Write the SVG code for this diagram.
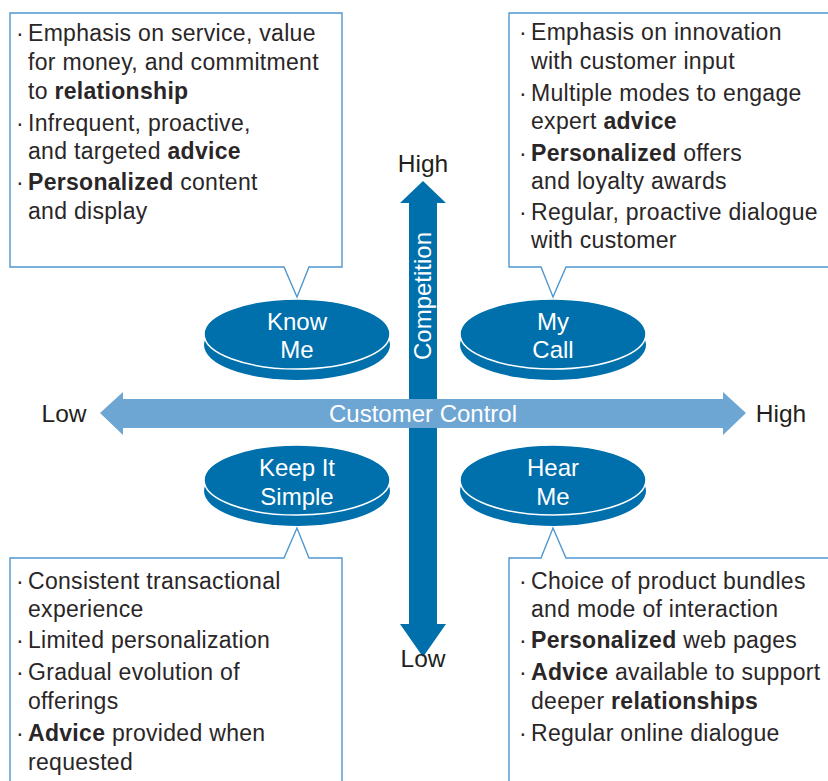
<svg xmlns="http://www.w3.org/2000/svg" width="828" height="781" viewBox="0 0 828 781">
<style>
.t{font-family:"Liberation Sans",Arial,sans-serif;font-size:23px;fill:#2a2627;letter-spacing:0.3px}
.b{font-weight:bold}
.box{fill:#fff;stroke:#4f97cf;stroke-width:1.4}
.disc{fill:#0070ad}
.top{fill:#0070ad;stroke:#fff;stroke-width:1.5}
.lbl{font-family:"Liberation Sans",Arial,sans-serif;font-size:24px;fill:#fff;text-anchor:middle}
.ax{font-family:"Liberation Sans",Arial,sans-serif;font-size:24.5px;fill:#231f20;text-anchor:middle}
</style>
<rect width="828" height="781" fill="#fff"/>
<g id="connectors">
<polygon id="v-axis" fill="#0070ad" points="423,181 446,203 437,203 437,624 446,624 423,657 400,624 409,624 409,203 400,203"/>
<polygon id="h-axis" fill="#6ea6d3" points="100,413 123,392 123,399 723,399 723,392 746,413 723,435 723,428 123,428 123,435"/>
<text class="lbl" x="423" y="422" font-size="23.5">Customer Control</text>
<text class="lbl" transform="translate(431,296) rotate(-90)" x="0" y="0" font-size="24">Competition</text>
</g>
<g id="axis-labels">
<text class="ax" x="423" y="172">High</text>
<text class="ax" x="423" y="667">Low</text>
<text class="ax" x="64" y="422">Low</text>
<text class="ax" x="781" y="422">High</text>
</g>
<g id="know-me">
<ellipse class="disc" cx="297" cy="345" rx="93" ry="35"/>
<ellipse class="top" cx="297" cy="334" rx="93" ry="35"/>
<text class="lbl" x="297" y="330">Know</text>
<text class="lbl" x="297" y="358">Me</text>
</g>
<g id="my-call">
<ellipse class="disc" cx="553" cy="345" rx="93" ry="35"/>
<ellipse class="top" cx="553" cy="334" rx="93" ry="35"/>
<text class="lbl" x="553" y="330">My</text>
<text class="lbl" x="553" y="358">Call</text>
</g>
<g id="keep-it-simple">
<ellipse class="disc" cx="297" cy="491" rx="93" ry="35"/>
<ellipse class="top" cx="297" cy="480" rx="93" ry="35"/>
<text class="lbl" x="297" y="476">Keep It</text>
<text class="lbl" x="297" y="505">Simple</text>
</g>
<g id="hear-me">
<ellipse class="disc" cx="553" cy="491" rx="93" ry="35"/>
<ellipse class="top" cx="553" cy="480" rx="93" ry="35"/>
<text class="lbl" x="553" y="476">Hear</text>
<text class="lbl" x="553" y="505">Me</text>
</g>
<g id="box-know-me">
<path class="box" d="M10,13 H342 V267 H309 L297,297 L284,267 H10 Z"/>
<text class="t" x="16" y="41">·</text><text class="t" x="28" y="41">Emphasis on service, value</text>
<text class="t" x="28" y="70">for money, and commitment</text>
<text class="t" x="28" y="99">to <tspan class="b">relationship</tspan></text>
<text class="t" x="16" y="131">·</text><text class="t" x="28" y="131">Infrequent, proactive,</text>
<text class="t" x="28" y="159">and targeted <tspan class="b">advice</tspan></text>
<text class="t" x="16" y="190">·</text><text class="t" x="28" y="190"><tspan class="b">Personalized</tspan> content</text>
<text class="t" x="28" y="219">and display</text>
</g>
<g id="box-my-call">
<path class="box" d="M840,13 H509 V267 H541 L553,297 L566,267 H840"/>
<text class="t" x="519" y="40">·</text><text class="t" x="531" y="40">Emphasis on innovation</text>
<text class="t" x="531" y="69">with customer input</text>
<text class="t" x="519" y="101">·</text><text class="t" x="531" y="101">Multiple modes to engage</text>
<text class="t" x="531" y="129">expert <tspan class="b">advice</tspan></text>
<text class="t" x="519" y="161">·</text><text class="t" x="531" y="161"><tspan class="b">Personalized</tspan> offers</text>
<text class="t" x="531" y="189">and loyalty awards</text>
<text class="t" x="519" y="220">·</text><text class="t" x="531" y="220">Regular, proactive dialogue</text>
<text class="t" x="531" y="248">with customer</text>
</g>
<g id="box-keep-it-simple">
<path class="box" d="M10,790 V558 H284 L297,528 L309,558 H342 V790"/>
<text class="t" x="16" y="589">·</text><text class="t" x="28" y="589">Consistent transactional</text>
<text class="t" x="28" y="617">experience</text>
<text class="t" x="16" y="648">·</text><text class="t" x="28" y="648">Limited personalization</text>
<text class="t" x="16" y="680">·</text><text class="t" x="28" y="680">Gradual evolution of</text>
<text class="t" x="28" y="709">offerings</text>
<text class="t" x="16" y="741">·</text><text class="t" x="28" y="741"><tspan class="b">Advice</tspan> provided when</text>
<text class="t" x="28" y="770">requested</text>
</g>
<g id="box-hear-me">
<path class="box" d="M509,790 V558 H541 L553,528 L566,558 H840"/>
<text class="t" x="519" y="589">·</text><text class="t" x="531" y="589">Choice of product bundles</text>
<text class="t" x="531" y="617">and mode of interaction</text>
<text class="t" x="519" y="648">·</text><text class="t" x="531" y="648"><tspan class="b">Personalized</tspan> web pages</text>
<text class="t" x="519" y="680">·</text><text class="t" x="531" y="680"><tspan class="b">Advice</tspan> available to support</text>
<text class="t" x="531" y="709">deeper <tspan class="b">relationships</tspan></text>
<text class="t" x="519" y="741">·</text><text class="t" x="531" y="741">Regular online dialogue</text>
</g>
</svg>
